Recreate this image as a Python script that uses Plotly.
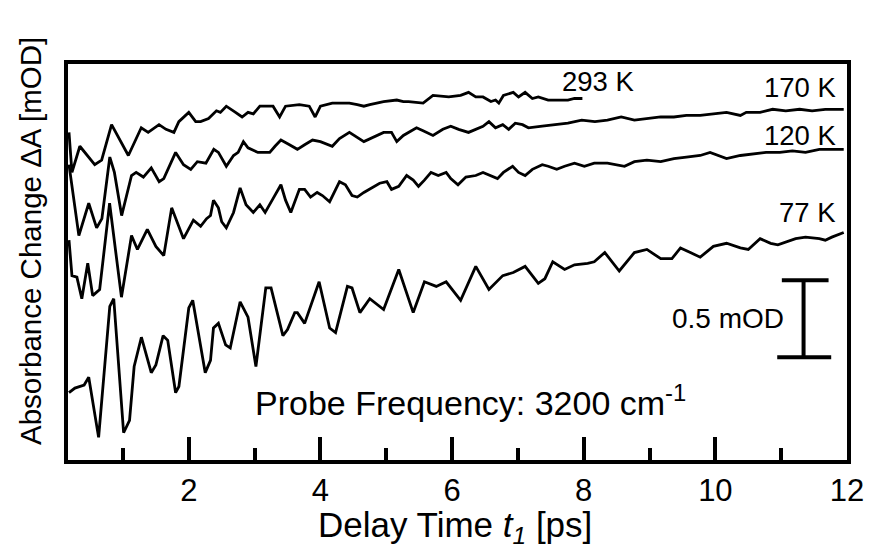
import plotly.graph_objects as go

# ---- data (delay time in ps, absorbance change in mOD, traces offset) ----
t_293 = [0.18,0.225,0.345,0.571,0.676,0.827,1.082,1.278,1.383,1.548,1.654,1.774,1.849,2.0,2.105,2.18,2.30,2.42,2.48,2.57,2.71,2.81,2.90,2.98,3.08,3.28,3.38,3.47,3.68,3.83,3.92,4.0,4.18,4.44,4.56,4.66,4.75,4.96,5.16,5.26,5.34,5.56,5.71,5.95,6.13,6.25,6.36,6.47,6.59,6.66,6.71,6.78,6.93,7.01,7.11,7.22,7.31,7.46,7.76,7.86,7.98]
a_293 = [2.14,1.88,2.05,1.93,1.96,2.19,1.99,2.17,2.14,2.19,2.16,2.14,2.21,2.27,2.21,2.21,2.23,2.28,2.27,2.31,2.27,2.24,2.27,2.26,2.31,2.31,2.24,2.31,2.32,2.31,2.24,2.31,2.33,2.33,2.32,2.31,2.32,2.34,2.35,2.34,2.34,2.33,2.38,2.37,2.38,2.40,2.37,2.37,2.34,2.35,2.33,2.38,2.40,2.37,2.40,2.36,2.37,2.35,2.35,2.36,2.36]

t_170 = [0.18,0.33,0.48,0.60,0.68,0.80,0.87,0.98,1.13,1.20,1.31,1.43,1.55,1.62,1.80,1.92,2.03,2.13,2.26,2.38,2.45,2.57,2.68,2.75,2.83,2.90,3.05,3.16,3.23,3.31,3.40,3.53,3.65,3.76,3.88,4.0,4.18,4.29,4.44,4.66,4.86,4.96,5.08,5.16,5.26,5.46,5.56,5.71,5.86,5.98,6.10,6.25,6.47,6.56,6.66,6.77,6.86,6.96,7.07,7.16,7.37,7.56,7.76,7.97,8.17,8.36,8.57,8.77,8.96,9.17,9.37,9.56,9.77,9.97,10.17,10.38,10.47,10.68,10.87,11.07,11.28,11.47,11.67,11.95]
a_170 = [1.93,1.47,1.68,1.52,1.58,1.98,1.88,1.60,1.86,1.88,1.85,1.91,1.82,1.84,2.01,1.93,1.90,1.95,1.94,2.03,2.01,1.92,1.99,2.01,2.08,2.04,2.01,2.01,2.01,2.05,2.09,2.06,2.03,2.06,2.09,2.08,2.05,2.10,2.14,2.08,2.12,2.14,2.14,2.08,2.12,2.17,2.15,2.12,2.16,2.18,2.16,2.14,2.18,2.21,2.17,2.19,2.16,2.20,2.19,2.17,2.18,2.19,2.20,2.22,2.21,2.22,2.24,2.22,2.23,2.24,2.24,2.25,2.25,2.26,2.27,2.25,2.27,2.27,2.29,2.28,2.29,2.28,2.29,2.29]

t_120 = [0.18,0.225,0.30,0.375,0.465,0.54,0.646,0.797,0.977,1.13,1.22,1.37,1.50,1.62,1.74,1.92,2.07,2.18,2.27,2.33,2.375,2.45,2.50,2.57,2.68,2.78,2.87,2.98,3.08,3.16,3.28,3.40,3.47,3.55,3.68,3.76,3.85,3.95,4.03,4.14,4.29,4.38,4.48,4.56,4.66,4.81,4.90,5.01,5.08,5.19,5.31,5.41,5.49,5.58,5.68,5.79,5.91,5.98,6.09,6.21,6.36,6.47,6.59,6.69,6.78,6.92,7.01,7.11,7.22,7.37,7.46,7.59,7.71,7.86,8.01,8.16,8.36,8.62,8.77,8.96,9.17,9.37,9.56,9.77,9.92,10.17,10.38,10.57,10.77,10.98,11.17,11.37,11.58,11.77,11.95]
a_120 = [1.44,1.21,1.20,1.06,1.29,1.08,1.12,1.68,1.07,1.47,1.38,1.51,1.40,1.34,1.65,1.45,1.57,1.53,1.58,1.60,1.70,1.65,1.56,1.52,1.62,1.78,1.67,1.62,1.67,1.62,1.71,1.80,1.70,1.62,1.77,1.77,1.72,1.75,1.73,1.69,1.82,1.80,1.73,1.72,1.75,1.79,1.81,1.82,1.77,1.79,1.86,1.83,1.79,1.83,1.88,1.86,1.88,1.84,1.80,1.85,1.86,1.88,1.86,1.84,1.88,1.92,1.88,1.86,1.90,1.93,1.92,1.90,1.92,1.94,1.92,1.94,1.94,1.92,1.95,1.96,1.95,1.97,1.98,1.99,2.01,1.97,1.99,2.00,2.01,2.01,2.02,2.01,2.03,2.03,2.03]

t_77 = [0.18,0.27,0.41,0.48,0.63,0.80,0.86,1.01,1.10,1.17,1.28,1.43,1.50,1.61,1.68,1.80,1.85,2.0,2.06,2.25,2.33,2.375,2.45,2.56,2.63,2.78,2.90,3.02,3.17,3.25,3.43,3.50,3.61,3.65,3.76,3.85,3.98,4.14,4.23,4.41,4.48,4.60,4.75,4.96,5.19,5.41,5.58,5.76,5.91,6.13,6.36,6.56,6.77,6.93,7.11,7.31,7.41,7.53,7.71,7.86,8.06,8.16,8.32,8.54,8.77,8.96,9.17,9.34,9.47,9.62,9.77,9.97,10.17,10.38,10.50,10.68,10.84,10.95,11.07,11.22,11.37,11.58,11.67,11.77,11.95]
a_77 = [0.45,0.48,0.50,0.55,0.16,1.01,1.06,0.19,0.27,0.62,0.81,0.58,0.63,0.82,0.79,0.45,0.49,1.0,1.05,0.58,0.66,0.87,0.90,0.76,0.74,1.04,0.94,0.62,1.13,1.13,0.82,0.86,0.97,0.97,0.90,1.01,1.17,0.87,0.84,1.14,1.13,0.97,1.06,0.99,1.25,0.97,1.17,1.14,1.17,1.05,1.27,1.12,1.21,1.23,1.27,1.16,1.19,1.30,1.25,1.28,1.29,1.30,1.36,1.24,1.36,1.38,1.32,1.32,1.39,1.36,1.33,1.40,1.42,1.39,1.38,1.45,1.42,1.41,1.43,1.45,1.46,1.45,1.44,1.46,1.49]

series_names = ["293 K", "170 K", "120 K", "77 K"]
series_t = [t_293, t_170, t_120, t_77]
series_a = [a_293, a_170, a_120, a_77]

# label anchor points (ps, mOD)
label_x = [8.22, 11.30, 11.30, 11.40]
label_y = [2.47, 2.43, 2.12, 1.62]

x_ticks = [2, 4, 6, 8, 10, 12]
scale_bar_mod = 0.5

FONT = "Liberation Sans, Arial, Helvetica, sans-serif"

fig = go.Figure()
for name, t, a in zip(series_names, series_t, series_a):
    fig.add_trace(go.Scatter(x=t, y=a, mode="lines", name=name,
                             line=dict(color="black", width=2.8),
                             showlegend=False, hoverinfo="skip"))

annotations = []
for name, lx, ly in zip(series_names, label_x, label_y):
    annotations.append(dict(x=lx, y=ly, xref="x", yref="y", text=name,
                            showarrow=False, font=dict(size=27.5, color="black", family=FONT)))

annotations.append(dict(x=6.28, y=0.40, xref="x", yref="y",
                        text="Probe Frequency: 3200 cm<sup>-1</sup>", showarrow=False,
                        font=dict(size=34, color="black", family=FONT)))

# scale bar
sb_x, sb_y0 = 11.34, 0.68
sb_y1 = sb_y0 + scale_bar_mod
shapes = [
    dict(type="line", xref="x", yref="y", x0=sb_x, x1=sb_x, y0=sb_y0, y1=sb_y1,
         line=dict(color="black", width=4)),
    dict(type="line", xref="x", yref="y", x0=11.01, x1=11.72, y0=sb_y1, y1=sb_y1,
         line=dict(color="black", width=4)),
    dict(type="line", xref="x", yref="y", x0=10.94, x1=11.76, y0=sb_y0, y1=sb_y0,
         line=dict(color="black", width=4)),
]
annotations.append(dict(x=11.08, y=(sb_y0 + sb_y1) / 2, xref="x", yref="y", xanchor="right",
                        text=f"{scale_bar_mod} mOD", showarrow=False,
                        font=dict(size=28, color="black", family=FONT)))

# axis titles
annotations.append(dict(x=0.5, y=0, xref="paper", yref="paper", yshift=-67,
                        xshift=-3, xanchor="center", yanchor="middle",
                        text="Delay Time <i>t</i><sub><i>1</i></sub> [ps]", showarrow=False,
                        font=dict(size=35, color="black", family=FONT)))
annotations.append(dict(x=0, y=0.553, xref="paper", yref="paper", xshift=-38,
                        xanchor="center", yanchor="middle", textangle=-90,
                        text="Absorbance Change ΔA [mOD]", showarrow=False,
                        font=dict(size=29.5, color="black", family=FONT)))

fig.update_layout(
    width=876, height=551,
    margin=dict(l=68, r=20, t=64, b=91),
    paper_bgcolor="white", plot_bgcolor="white",
    font=dict(family=FONT, color="black"),
    annotations=annotations, shapes=shapes,
    xaxis=dict(
        range=[0.165, 12], showgrid=False, zeroline=False,
        showline=True, linecolor="black", linewidth=4, mirror=True,
        ticks="inside", ticklen=23, tickwidth=4, tickcolor="black",
        tickvals=x_ticks, ticktext=[str(v) for v in x_ticks],
        tickfont=dict(size=31, family=FONT, color="black"),
        minor=dict(ticks="inside", ticklen=12, tickwidth=4, tickcolor="black", dtick=1, tick0=0),
    ),
    yaxis=dict(
        range=[0.013, 2.584], showgrid=False, zeroline=False,
        showline=True, linecolor="black", linewidth=4, mirror=True,
        ticks="", showticklabels=False,
    ),
)

fig.write_html("out.html", config={"displayModeBar": False},
               post_script="document.body.style.margin='0';document.body.style.overflow='hidden';")
